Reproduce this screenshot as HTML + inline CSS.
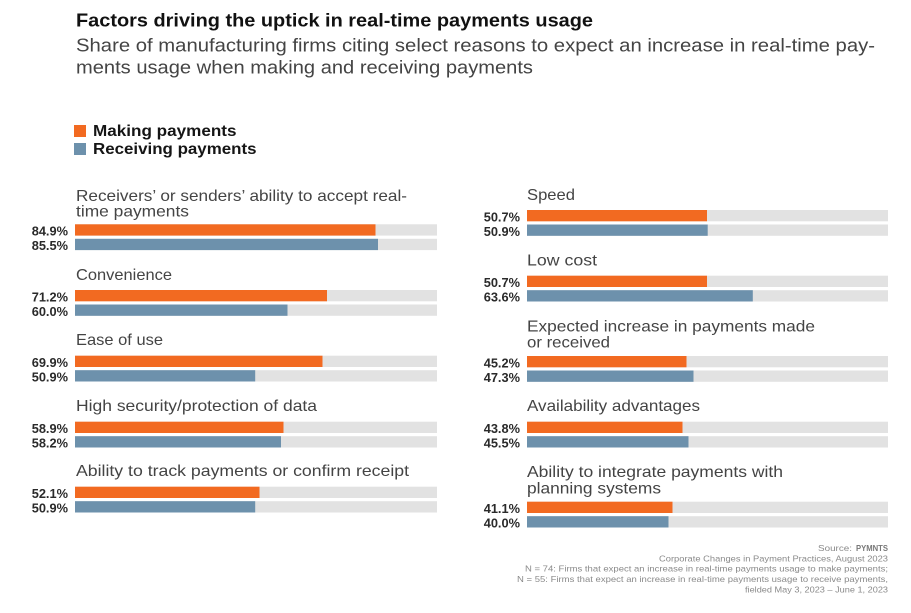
<!DOCTYPE html>
<html>
<head>
<meta charset="utf-8">
<style>
  html, body { margin: 0; padding: 0; background: #ffffff; }
  svg { display: block; }
  .title { font-family: "Liberation Sans", sans-serif; font-weight: bold; font-size: 18px; fill: #111; }
  .sub { font-family: "Liberation Sans", sans-serif; font-size: 18.5px; fill: #444; }
  .leg { font-family: "Liberation Sans", sans-serif; font-weight: bold; font-size: 16px; fill: #151515; }
  .lab { font-family: "Liberation Sans", sans-serif; font-size: 16px; fill: #444; }
  .pct { font-family: "Liberation Sans", sans-serif; font-weight: bold; font-size: 12.8px; fill: #2a2a2a; }
  .foot { font-family: "Liberation Sans", sans-serif; font-size: 8.5px; fill: #8a8a8a; }
  .footb { font-family: "Liberation Sans", sans-serif; font-size: 8.5px; font-weight: bold; fill: #777; }
</style>
</head>
<body>
<svg width="911" height="613" viewBox="0 0 911 613" xmlns="http://www.w3.org/2000/svg">
  <rect x="0" y="0" width="911" height="613" fill="#ffffff"/>

  <!-- Title -->
  <text class="title" x="76" y="26.7" textLength="517" lengthAdjust="spacingAndGlyphs">Factors driving the uptick in real-time payments usage</text>
  <text class="sub" x="76" y="51.7" textLength="799" lengthAdjust="spacingAndGlyphs">Share of manufacturing firms citing select reasons to expect an increase in real-time pay-</text>
  <text class="sub" x="76" y="73.5" textLength="457" lengthAdjust="spacingAndGlyphs">ments usage when making and receiving payments</text>

  <!-- Legend -->
  <rect x="74" y="125" width="12" height="12" fill="#F26A21"/>
  <rect x="74" y="143" width="12" height="12" fill="#6D91AC"/>
  <text class="leg" x="93" y="136" textLength="143.5" lengthAdjust="spacingAndGlyphs">Making payments</text>
  <text class="leg" x="93" y="154" textLength="163.5" lengthAdjust="spacingAndGlyphs">Receiving payments</text>

  <!-- LEFT COLUMN -->
  <text class="lab" x="76" y="201" textLength="331" lengthAdjust="spacingAndGlyphs">Receivers’ or senders’ ability to accept real-</text>
  <text class="lab" x="76" y="216.5" textLength="113" lengthAdjust="spacingAndGlyphs">time payments</text>
  <rect x="75" y="224.3" width="362" height="11.3" fill="#E2E2E2"/>
  <rect x="75" y="224.3" width="300.5" height="11.3" fill="#F26A21"/>
  <rect x="75" y="238.8" width="362" height="11.3" fill="#E2E2E2"/>
  <rect x="75" y="238.8" width="303" height="11.3" fill="#6D91AC"/>
  <text class="pct" x="68" y="235.6" text-anchor="end">84.9%</text>
  <text class="pct" x="68" y="250.1" text-anchor="end">85.5%</text>

  <text class="lab" x="76" y="280" textLength="96" lengthAdjust="spacingAndGlyphs">Convenience</text>
  <rect x="75" y="290" width="362" height="11.3" fill="#E2E2E2"/>
  <rect x="75" y="290" width="252" height="11.3" fill="#F26A21"/>
  <rect x="75" y="304.5" width="362" height="11.3" fill="#E2E2E2"/>
  <rect x="75" y="304.5" width="212.5" height="11.3" fill="#6D91AC"/>
  <text class="pct" x="68" y="301.3" text-anchor="end">71.2%</text>
  <text class="pct" x="68" y="315.8" text-anchor="end">60.0%</text>

  <text class="lab" x="76" y="345" textLength="87" lengthAdjust="spacingAndGlyphs">Ease of use</text>
  <rect x="75" y="355.7" width="362" height="11.3" fill="#E2E2E2"/>
  <rect x="75" y="355.7" width="247.5" height="11.3" fill="#F26A21"/>
  <rect x="75" y="370.2" width="362" height="11.3" fill="#E2E2E2"/>
  <rect x="75" y="370.2" width="180.2" height="11.3" fill="#6D91AC"/>
  <text class="pct" x="68" y="367" text-anchor="end">69.9%</text>
  <text class="pct" x="68" y="381.5" text-anchor="end">50.9%</text>

  <text class="lab" x="76" y="411" textLength="241" lengthAdjust="spacingAndGlyphs">High security/protection of data</text>
  <rect x="75" y="421.7" width="362" height="11.3" fill="#E2E2E2"/>
  <rect x="75" y="421.7" width="208.5" height="11.3" fill="#F26A21"/>
  <rect x="75" y="436.2" width="362" height="11.3" fill="#E2E2E2"/>
  <rect x="75" y="436.2" width="206" height="11.3" fill="#6D91AC"/>
  <text class="pct" x="68" y="433" text-anchor="end">58.9%</text>
  <text class="pct" x="68" y="447.5" text-anchor="end">58.2%</text>

  <text class="lab" x="76" y="476" textLength="333" lengthAdjust="spacingAndGlyphs">Ability to track payments or confirm receipt</text>
  <rect x="75" y="486.7" width="362" height="11.3" fill="#E2E2E2"/>
  <rect x="75" y="486.7" width="184.5" height="11.3" fill="#F26A21"/>
  <rect x="75" y="501.2" width="362" height="11.3" fill="#E2E2E2"/>
  <rect x="75" y="501.2" width="180.2" height="11.3" fill="#6D91AC"/>
  <text class="pct" x="68" y="498" text-anchor="end">52.1%</text>
  <text class="pct" x="68" y="512.5" text-anchor="end">50.9%</text>

  <!-- RIGHT COLUMN -->
  <text class="lab" x="527" y="200" textLength="48" lengthAdjust="spacingAndGlyphs">Speed</text>
  <rect x="527" y="210" width="361" height="11.3" fill="#E2E2E2"/>
  <rect x="527" y="210" width="180" height="11.3" fill="#F26A21"/>
  <rect x="527" y="224.5" width="361" height="11.3" fill="#E2E2E2"/>
  <rect x="527" y="224.5" width="180.7" height="11.3" fill="#6D91AC"/>
  <text class="pct" x="520" y="221.3" text-anchor="end">50.7%</text>
  <text class="pct" x="520" y="235.8" text-anchor="end">50.9%</text>

  <text class="lab" x="527" y="265.7" textLength="70" lengthAdjust="spacingAndGlyphs">Low cost</text>
  <rect x="527" y="275.7" width="361" height="11.3" fill="#E2E2E2"/>
  <rect x="527" y="275.7" width="180" height="11.3" fill="#F26A21"/>
  <rect x="527" y="290.2" width="361" height="11.3" fill="#E2E2E2"/>
  <rect x="527" y="290.2" width="225.8" height="11.3" fill="#6D91AC"/>
  <text class="pct" x="520" y="287" text-anchor="end">50.7%</text>
  <text class="pct" x="520" y="301.5" text-anchor="end">63.6%</text>

  <text class="lab" x="527" y="331.6" textLength="288" lengthAdjust="spacingAndGlyphs">Expected increase in payments made</text>
  <text class="lab" x="527" y="347.3" textLength="83" lengthAdjust="spacingAndGlyphs">or received</text>
  <rect x="527" y="356" width="361" height="11.3" fill="#E2E2E2"/>
  <rect x="527" y="356" width="159.5" height="11.3" fill="#F26A21"/>
  <rect x="527" y="370.5" width="361" height="11.3" fill="#E2E2E2"/>
  <rect x="527" y="370.5" width="166.5" height="11.3" fill="#6D91AC"/>
  <text class="pct" x="520" y="367.3" text-anchor="end">45.2%</text>
  <text class="pct" x="520" y="381.8" text-anchor="end">47.3%</text>

  <text class="lab" x="527" y="411" textLength="173" lengthAdjust="spacingAndGlyphs">Availability advantages</text>
  <rect x="527" y="421.7" width="361" height="11.3" fill="#E2E2E2"/>
  <rect x="527" y="421.7" width="155.5" height="11.3" fill="#F26A21"/>
  <rect x="527" y="436.2" width="361" height="11.3" fill="#E2E2E2"/>
  <rect x="527" y="436.2" width="161.5" height="11.3" fill="#6D91AC"/>
  <text class="pct" x="520" y="433" text-anchor="end">43.8%</text>
  <text class="pct" x="520" y="447.5" text-anchor="end">45.5%</text>

  <text class="lab" x="527" y="476.8" textLength="256" lengthAdjust="spacingAndGlyphs">Ability to integrate payments with</text>
  <text class="lab" x="527" y="493.3" textLength="134" lengthAdjust="spacingAndGlyphs">planning systems</text>
  <rect x="527" y="501.7" width="361" height="11.3" fill="#E2E2E2"/>
  <rect x="527" y="501.7" width="145.5" height="11.3" fill="#F26A21"/>
  <rect x="527" y="516.2" width="361" height="11.3" fill="#E2E2E2"/>
  <rect x="527" y="516.2" width="141.5" height="11.3" fill="#6D91AC"/>
  <text class="pct" x="520" y="513" text-anchor="end">41.1%</text>
  <text class="pct" x="520" y="527.5" text-anchor="end">40.0%</text>

  <!-- Footer -->
  <text class="foot" x="818" y="551" textLength="34" lengthAdjust="spacingAndGlyphs">Source:</text>
  <text class="footb" x="856" y="551" textLength="32" lengthAdjust="spacingAndGlyphs">PYMNTS</text>
  <text class="foot" x="659" y="561.5" textLength="229" lengthAdjust="spacingAndGlyphs">Corporate Changes in Payment Practices, August 2023</text>
  <text class="foot" x="525" y="571.5" textLength="363" lengthAdjust="spacingAndGlyphs">N = 74: Firms that expect an increase in real-time payments usage to make payments;</text>
  <text class="foot" x="517" y="582" textLength="371" lengthAdjust="spacingAndGlyphs">N = 55: Firms that expect an increase in real-time payments usage to receive payments,</text>
  <text class="foot" x="745" y="592.5" textLength="143" lengthAdjust="spacingAndGlyphs">fielded May 3, 2023 – June 1, 2023</text>
</svg>
</body>
</html>
